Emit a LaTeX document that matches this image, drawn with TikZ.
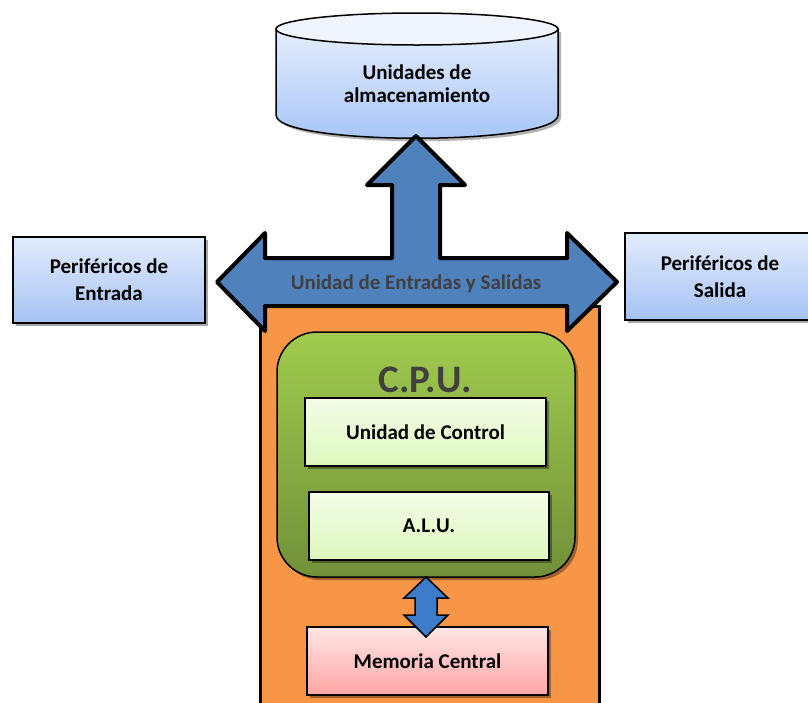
\documentclass[tikz,border=0pt]{standalone}
\usepackage{fontspec}
\setmainfont{Carlito}
\usetikzlibrary{shadows}
\definecolor{arrowblue}{HTML}{4F81BD}
\definecolor{smallblue}{HTML}{3D7CC9}
\definecolor{orangefill}{HTML}{F79646}
\definecolor{boxtop}{HTML}{E2EBFB}
\definecolor{boxbot}{HTML}{A6C3F4}
\definecolor{cyltop}{HTML}{E4EDFC}
\definecolor{cylbot}{HTML}{A4C3F6}
\definecolor{cpuTop}{HTML}{A0CB4E}
\definecolor{cpuBot}{HTML}{72903A}
\definecolor{greenTop}{HTML}{F4FDE8}
\definecolor{greenBot}{HTML}{DDF7BE}
\definecolor{pinkTop}{HTML}{FFE6E6}
\definecolor{pinkBot}{HTML}{FFA5A5}
\definecolor{darkgraytext}{HTML}{404040}
\tikzset{
  shad/.style={drop shadow={shadow xshift=3pt, shadow yshift=-3pt, opacity=0.35, fill=black}},
  bluebox/.style={draw=black, line width=1.5pt, top color=boxtop, bottom color=boxbot, shad,
    align=center, font=\fontsize{21}{27}\selectfont\bfseries, inner sep=0pt},
  greenbox/.style={draw=black, line width=1.5pt, top color=greenTop, bottom color=greenBot, shad,
    align=center, font=\fontsize{21}{25}\selectfont\bfseries, inner sep=0pt},
  pinkbox/.style={draw=black, line width=1.5pt, top color=pinkTop, bottom color=pinkBot, shad,
    align=center, font=\fontsize{21}{25}\selectfont\bfseries, inner sep=0pt},
  bigarrow/.style={fill=arrowblue, draw=black, line width=4pt, line join=round},
  smallarrow/.style={fill=smallblue, draw=black, line width=1.5pt, line join=miter},
}
\begin{document}
\begin{tikzpicture}[x=1pt,y=-1pt]
\clip (0,0) rectangle (808,702);
\fill[white] (0,0) rectangle (808,702);

% Storage cylinder
\fill[black,opacity=0.3] (279,32) -- (279,118) .. controls (279,149) and (561,149) .. (561,118) -- (561,32) -- cycle;
\draw[line width=1.5pt, top color=cyltop, bottom color=cylbot]
  (276,29) -- (276,115) .. controls (276,146) and (558,146) .. (558,115) -- (558,29) -- cycle;
\draw[line width=1.5pt, fill=cyltop!60!white] (417,29) ellipse [x radius=141, y radius=16];
\node[align=center, font=\fontsize{21}{23}\selectfont\bfseries] (storage) at (417,84) {Unidades de\\almacenamiento};

% Orange main block
\node[draw=black, line width=3pt, fill=orangefill, minimum width=339pt, minimum height=420pt, inner sep=0pt, anchor=north west] (main) at (258.5,305) {};

% Big I/O arrow
\draw[bigarrow] (416,136) -- (465,185) -- (440,185) -- (440,258) -- (567,258) -- (567,233)
  -- (617,282) -- (567,331) -- (567,306) -- (265,306) -- (265,331) -- (217,282)
  -- (265,233) -- (265,258) -- (392,258) -- (392,185) -- (367,185) -- cycle;
\node[font=\fontsize{21}{24}\selectfont\bfseries, text=darkgraytext] (io) at (416,284) {Unidad de Entradas y Salidas};

% Peripherals
\node[bluebox, minimum width=192pt, minimum height=86pt] (inp) at (109,280) {Periféricos de\\Entrada};
\node[bluebox, minimum width=190pt, minimum height=87pt] (outp) at (720,276.5) {Periféricos de\\Salida};

% CPU
\draw[line width=1.5pt, rounded corners=40pt, top color=cpuTop, bottom color=cpuBot, shad]
  (277,332) rectangle (575,577);
\node[font=\fontsize{39}{42}\selectfont\bfseries, text=darkgraytext] (cpu) at (425,380) {C.P.U.};
\node[greenbox, minimum width=241pt, minimum height=68pt] (uc) at (425.5,432) {Unidad de Control};
\node[greenbox, minimum width=240pt, minimum height=68pt] (alu) at (429,526) {A.L.U.};

% Memory
\node[pinkbox, minimum width=241pt, minimum height=68pt] (mem) at (427.5,661) {Memoria Central};

% small double arrow
\draw[smallarrow] (426,577) -- (448,598) -- (437,598) -- (437,615) -- (448,615) -- (426,637)
  -- (404,615) -- (415,615) -- (415,598) -- (404,598) -- cycle;
\end{tikzpicture}
\end{document}
